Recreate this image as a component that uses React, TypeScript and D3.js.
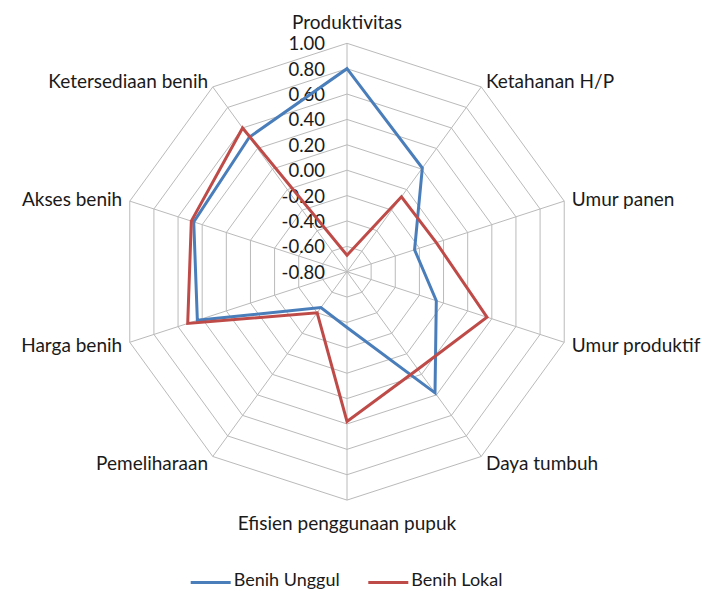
import React from 'react'
import * as d3 from 'd3'

// radar chart: Benih Unggul vs Benih Lokal
const categories = [
  'Produktivitas',
  'Ketahanan H/P',
  'Umur panen',
  'Umur produktif',
  'Daya tumbuh',
  'Efisien penggunaan pupuk',
  'Pemeliharaan',
  'Harga benih',
  'Akses benih',
  'Ketersediaan benih'
]

const benihUnggul = [0.80, 0.21, -0.24, -0.06, 0.38, -0.36, -0.45, 0.44, 0.47, 0.51]
const benihLokal = [-0.67, -0.07, -0.06, 0.36, 0.15, 0.38, -0.40, 0.52, 0.49, 0.60]

const tickValues = [-0.8, -0.6, -0.4, -0.2, 0, 0.2, 0.4, 0.6, 0.8, 1.0]

const seriesNames = ['Benih Unggul', 'Benih Lokal']
const seriesColors = ['#4A7EBB', '#BE4B48']

const WIDTH = 702
const HEIGHT = 591
const FONT = 'Lato, "Open Sans", sans-serif'

export default function App () {
  const cx = 347
  const cy = 271.7
  const R = 228.4

  const r = d3.scaleLinear().domain([-0.8, 1.0]).range([0, R])
  const angle = d3.scaleLinear().domain([0, categories.length]).range([0, 2 * Math.PI])

  const ring = d3.lineRadial<number>()
    .angle((d, i) => angle(i))
    .radius(d => r(d))
    .curve(d3.curveLinearClosed)

  const series = [benihUnggul, benihLokal]

  // point on axis i at value v
  const pt = (i: number, v: number) => {
    const a = angle(i)
    return [Math.sin(a) * r(v), -Math.cos(a) * r(v)]
  }

  return (
    <svg width={WIDTH} height={HEIGHT} style={{ position: 'absolute', left: 0, top: 0, background: '#fff' }}
      fontFamily={FONT}>
      <g transform={`translate(${cx},${cy})`}>
        {/* grid rings */}
        {tickValues.slice(1).map(t => (
          <path key={t} d={ring(categories.map(() => t)) || ''} fill='none' stroke='#BABABA' strokeWidth={1} />
        ))}
        {/* spokes */}
        {categories.map((c, i) => {
          const [x, y] = pt(i, 1.0)
          return <line key={c} x1={0} y1={0} x2={x} y2={y} stroke='#BABABA' strokeWidth={1} />
        })}
        {/* tick labels */}
        {tickValues.map(t => (
          <text key={t} x={-22} y={-r(t)} textAnchor='end' dominantBaseline='central'
            fontSize={18.5} fill='#1a1a1a'>{t.toFixed(2)}</text>
        ))}
        {/* series */}
        {series.map((s, k) => (
          <path key={k} d={ring(s) || ''} fill='none' stroke={seriesColors[k]} strokeWidth={3}
            strokeLinejoin='miter' />
        ))}
        {/* category labels */}
        {categories.map((c, i) => {
          const a = angle(i)
          const sx = Math.sin(a)
          const cy2 = -Math.cos(a)
          const vertical = Math.abs(sx) < 0.1
          const pad = vertical ? 22 : 8
          const x = sx * (R + pad)
          const y = cy2 * (R + pad)
          const anchor = vertical ? 'middle' : (sx > 0 ? 'start' : 'end')
          return (
            <text key={c} x={x} y={y} textAnchor={anchor} dominantBaseline='central'
              fontSize={19} fill='#1a1a1a'>{c}</text>
          )
        })}
      </g>
      {/* legend */}
      <g transform='translate(0,582.5)'>
        {seriesNames.map((n, k) => {
          const x0 = k === 0 ? 190.7 : 368.3
          return (
            <g key={n} transform={`translate(${x0},0)`}>
              <line x1={0} x2={40} y1={0} y2={0} stroke={seriesColors[k]} strokeWidth={3} />
              <text x={43} y={3.5} fontSize={18} fill='#1a1a1a'>{n}</text>
            </g>
          )
        })}
      </g>
    </svg>
  )
}
